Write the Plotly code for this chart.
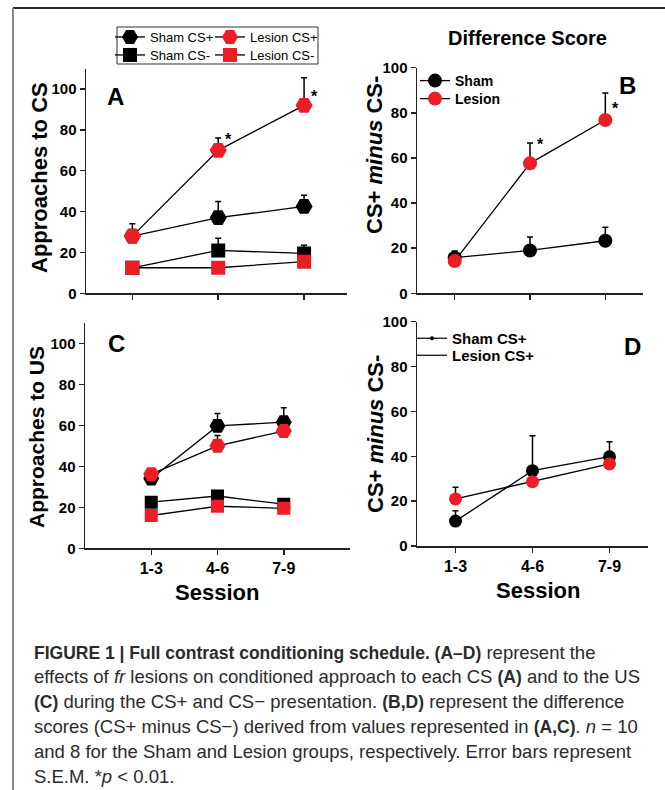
import plotly.graph_objects as go

W, H = 665, 790
FONT = "Liberation Sans, Arial, Helvetica, sans-serif"


def px(x):
    return x / W


def py(y):
    return 1 - y / H


sessions = [1, 2, 3]
session_labels = ["1-3", "4-6", "7-9"]

# Panel A: approaches to CS
a_sham_cs_plus = [28, 37, 42.5]
a_sham_cs_plus_err = [6, 8, 5.5]
a_lesion_cs_plus = [28, 70, 92]
a_lesion_cs_plus_err = [3, 6, 13.5]
a_sham_cs_minus = [12.5, 21, 19.5]
a_sham_cs_minus_err = [1.5, 6, 4]
a_lesion_cs_minus = [12.5, 12.5, 15.5]
a_lesion_cs_minus_err = [1.5, 1.5, 1.5]

# Panel B: difference score (CS)
b_sham = [15.8, 19, 23.3]
b_sham_err = [3, 6, 6]
b_lesion = [14.3, 57.6, 76.8]
b_lesion_err = [1.5, 9, 12]

# Panel C: approaches to US
c_sham_cs_plus = [34, 59.7, 61.5]
c_sham_cs_plus_err = [2, 6, 7]
c_lesion_cs_plus = [36.2, 50, 57.2]
c_lesion_cs_plus_err = [2, 5, 3]
c_sham_cs_minus = [22.5, 25.5, 21.5]
c_sham_cs_minus_err = [1.5, 1.5, 1.5]
c_lesion_cs_minus = [16, 20.5, 19.5]
c_lesion_cs_minus_err = [1.5, 2, 1.5]

# Panel D: difference score (US)
d_sham = [11.1, 33.6, 39.8]
d_sham_err = [4.6, 15.5, 6.7]
d_lesion = [21, 28.7, 36.6]
d_lesion_err = [5.2, 3, 3]

RED = "#ee1c24"
AX = "#222222"

fig = go.Figure()


def add_series(xa, ya, y, err, symbol, color, size, name, legend=None, showlegend=False):
    fig.add_trace(go.Scatter(
        x=sessions, y=y, mode="lines+markers", xaxis=xa, yaxis=ya,
        line=dict(color="black", width=1.3),
        marker=dict(symbol=symbol, color=color, size=size, line=dict(width=0)),
        error_y=dict(type="data", array=err, arrayminus=[0] * len(err), symmetric=False,
                     color="black", thickness=1.5, width=3),
        name=name, showlegend=showlegend, legend=legend, hoverinfo="skip"))


# A
add_series("x", "y", a_sham_cs_plus, a_sham_cs_plus_err, "hexagon2", "black", 17, "Sham CS+", "legend", True)
add_series("x", "y", a_lesion_cs_plus, a_lesion_cs_plus_err, "hexagon2", RED, 17, "Lesion CS+", "legend7", True)
add_series("x", "y", a_sham_cs_minus, a_sham_cs_minus_err, "square", "black", 14, "Sham CS-", "legend4", True)
add_series("x", "y", a_lesion_cs_minus, a_lesion_cs_minus_err, "square", RED, 14, "Lesion CS-", "legend8", True)
# B
add_series("x2", "y2", b_sham, b_sham_err, "circle", "black", 14, "Sham", "legend2", True)
add_series("x2", "y2", b_lesion, b_lesion_err, "circle", RED, 14, "Lesion", "legend5", True)
# C
add_series("x3", "y3", c_sham_cs_plus, c_sham_cs_plus_err, "hexagon2", "black", 16, "Sham CS+")
add_series("x3", "y3", c_lesion_cs_plus, c_lesion_cs_plus_err, "hexagon2", RED, 16, "Lesion CS+")
add_series("x3", "y3", c_sham_cs_minus, c_sham_cs_minus_err, "square", "black", 13, "Sham CS-")
add_series("x3", "y3", c_lesion_cs_minus, c_lesion_cs_minus_err, "square", RED, 13, "Lesion CS-")
# D
add_series("x4", "y4", d_sham, d_sham_err, "circle", "black", 13, "Sham")
add_series("x4", "y4", d_lesion, d_lesion_err, "circle", RED, 13, "Lesion")
# D legend entries (as in the original figure)
fig.add_trace(go.Scatter(x=[None], y=[None], mode="lines+markers", xaxis="x4", yaxis="y4",
                         line=dict(color="black", width=1.2), marker=dict(color="black", size=4),
                         name="Sham CS+", legend="legend3", showlegend=True))
fig.add_trace(go.Scatter(x=[None], y=[None], mode="lines", xaxis="x4", yaxis="y4",
                         line=dict(color="black", width=1.2),
                         name="Lesion CS+", legend="legend6", showlegend=True))

axis_common = dict(showline=True, linecolor=AX, linewidth=1.5, ticks="outside", ticklen=5,
                   tickwidth=1.5, tickcolor=AX, showgrid=False, zeroline=False, fixedrange=True,
                   automargin=False)


def xaxis(dom, rng, labels, anchor, size=16):
    return dict(axis_common, domain=[px(dom[0]), px(dom[1])], range=rng, tickvals=sessions,
                ticktext=session_labels, showticklabels=labels, anchor=anchor,
                tickfont=dict(family=FONT, size=size, color="black", weight="bold"))


def yaxis(dom, rng, anchor, size=15):
    return dict(axis_common, domain=[py(dom[1]), py(dom[0])], range=rng, tickvals=[0, 20, 40, 60, 80, 100],
                anchor=anchor, tickfont=dict(family=FONT, size=size, color="black", weight="bold"))


def leg(x, top, size, bold):
    return dict(x=px(x), y=py(top), xanchor="left", yanchor="top", orientation="v",
                bgcolor="rgba(0,0,0,0)", borderwidth=0,
                font=dict(family=FONT, size=size, color="black", weight="bold" if bold else "normal"))


fig.update_layout(
    width=W, height=H, autosize=False, margin=dict(l=0, r=0, t=0, b=0, pad=0, autoexpand=False),
    paper_bgcolor="white", plot_bgcolor="rgba(0,0,0,0)",
    xaxis=xaxis((86, 347), [0.46, 3.5], False, "y"),
    yaxis=yaxis((68.6, 293.3), [0, 110], "x", 15),
    xaxis2=xaxis((417, 643), [0.5, 3.5], False, "y2"),
    yaxis2=yaxis((67.7, 293.3), [0, 100], "x2", 15),
    xaxis3=xaxis((85, 350), [0, 4], True, "y3"),
    yaxis3=yaxis((322.8, 548.3), [0, 110], "x3", 15),
    xaxis4=xaxis((417, 648), [0.5, 3.5], True, "y4"),
    yaxis4=yaxis((321.7, 546), [0, 100], "x4", 15),
    legend=leg(110, 22, 13, False),
    legend7=leg(210, 22, 13, False),
    legend4=leg(110, 40, 13, False),
    legend8=leg(210, 40, 13, False),
    legend2=leg(415, 65, 14, True),
    legend5=leg(415, 83, 14, True),
    legend3=leg(412, 322, 15, True),
    legend6=leg(412, 339, 15, True),
    showlegend=True,
)

shapes = [
    dict(type="line", xref="paper", yref="paper", x0=px(13), x1=1, y0=py(8), y1=py(8),
         line=dict(color="#2a2a2a", width=2)),
    dict(type="line", xref="paper", yref="paper", x0=px(13), x1=px(13), y0=py(8), y1=0,
         line=dict(color="#8a8a8a", width=2)),
    dict(type="rect", xref="paper", yref="paper", x0=px(117), x1=px(318), y0=py(27), y1=py(64),
         line=dict(color="#333", width=1)),
]
fig.update_layout(shapes=shapes)

ann = []


def text(x, y, t, size, bold=True, angle=0, xanchor="center", color="black"):
    ann.append(dict(x=px(x), y=py(y), xref="paper", yref="paper", text=t, showarrow=False,
                    xanchor=xanchor, yanchor="middle", textangle=angle,
                    font=dict(family=FONT, size=size, color=color, weight="bold" if bold else "normal")))


# Panel letters
text(115, 97, "A", 24)
text(627, 85, "B", 24)
text(116, 343, "C", 24)
text(632, 346, "D", 24)
# Titles
text(527, 38, "Difference Score", 20)
text(40, 178, "Approaches to CS", 22, angle=-90)
text(37, 437, "Approaches to US", 21, angle=-90)
text(375, 155, "CS+ <i>minus</i> CS-", 22, angle=-90)
text(375, 434, "CS+ <i>minus</i> CS-", 22, angle=-90)
text(217, 592, "Session", 22)
text(538, 590, "Session", 22)

# Significance stars
for (xr, yr, xv, yv) in [("x", "y", 2.12, 77.6), ("x", "y", 3.12, 99),
                         ("x2", "y2", 2.14, 68), ("x2", "y2", 3.14, 84)]:
    ann.append(dict(x=xv, y=yv, xref=xr, yref=yr, text="*", showarrow=False, yanchor="middle",
                    yshift=-5, font=dict(family=FONT, size=16, color="black", weight="bold")))


def B(s):
    return '<span style="font-size:17.5px"><b>' + s + '</b></span>'


caption = [
    B("FIGURE 1 | Full contrast conditioning schedule. (A–D)") + " represent the",
    "effects of <i>fr</i> lesions on conditioned approach to each CS " + B("(A)") + " and to the US",
    B("(C)") + " during the CS+ and CS− presentation. " + B("(B,D)") + " represent the difference",
    "scores (CS+ minus CS−) derived from values represented in " + B("(A,C)") + ". <i>n</i> = 10",
    "and 8 for the Sham and Lesion groups, respectively. Error bars represent",
    "S.E.M. *<i>p</i> &lt; 0.01.",
]
cap_y = [652, 676, 701, 726, 751, 776]
for t, y in zip(caption, cap_y):
    text(32, y, t, 18.5, bold=False, xanchor="left", color="#2b2b2b")

fig.update_layout(annotations=ann)

fig.write_html("out.html", config={"displayModeBar": False, "staticPlot": True})
